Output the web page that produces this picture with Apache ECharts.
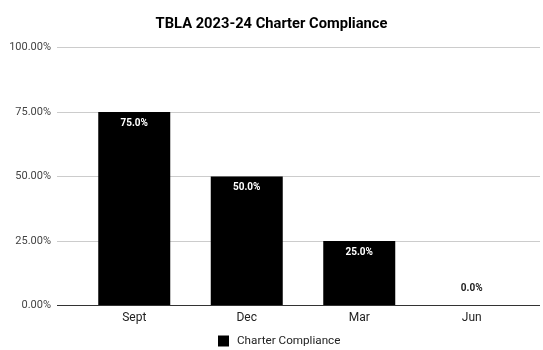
<!DOCTYPE html>
<html>
<head>
<meta charset="utf-8">
<script src="https://cdn.jsdelivr.net/npm/echarts@6/dist/echarts.min.js"></script>
<style>
  html, body { margin: 0; padding: 0; background: #fff; }
  #chart { width: 543px; height: 350px; }
</style>
</head>
<body>
<div id="chart"></div>
<script>
// Quarterly compliance rates for TBLA, 2023-24
const categories = ['Sept', 'Dec', 'Mar', 'Jun'];
const compliance = [0.75, 0.50, 0.25, 0.0];
const yTicks = [0, 0.25, 0.5, 0.75, 1.0];
const seriesName = 'Charter Compliance';

const FONT = 'Roboto, "Noto Sans", sans-serif';

const chart = echarts.init(document.getElementById('chart'), null, { renderer: 'canvas' });

const barData = compliance.map(v => {
  const item = { value: v };
  if (v === 0) {
    item.label = { position: 'top', distance: 12, color: '#222' };
  }
  return item;
});

chart.setOption({
  animation: false,
  textStyle: { fontFamily: FONT },
  title: {
    text: 'TBLA 2023-24 Charter Compliance',
    left: 'center',
    top: 12,
    textStyle: { fontFamily: FONT, fontSize: 14.7, fontWeight: 'bold', color: '#000' }
  },
  legend: {
    data: [seriesName],
    bottom: 3,
    left: 218,
    padding: 0,
    icon: 'rect',
    itemWidth: 11,
    itemHeight: 11,
    itemGap: 6,
    textStyle: { fontFamily: FONT, fontSize: 11.7, color: '#222', padding: [0, 0, 0, 3] }
  },
  grid: [
    // wide grid carrying the value axis and its gridlines
    { left: 57, right: 3, top: 47.5, bottom: 44.5 },
    // inner grid holding the category bands and bars
    { left: 78, right: 15, top: 47.5, bottom: 44.5 }
  ],
  xAxis: [
    { gridIndex: 0, type: 'value', show: false },
    {
      gridIndex: 1,
      type: 'category',
      data: categories,
      axisLine: { show: false },
      axisTick: { show: false },
      axisLabel: { color: '#222', fontSize: 12, margin: 6, fontFamily: FONT }
    }
  ],
  yAxis: [
    {
      gridIndex: 0,
      type: 'value',
      min: yTicks[0],
      max: yTicks[yTicks.length - 1],
      interval: 0.25,
      axisLine: { show: false },
      axisTick: { show: false },
      splitLine: { lineStyle: { color: '#cccccc', width: 1 } },
      axisLabel: {
        color: '#444',
        fontSize: 11,
        margin: 6,
        fontFamily: FONT,
        formatter: v => (v * 100).toFixed(2) + '%'
      }
    },
    {
      gridIndex: 1,
      type: 'value',
      min: yTicks[0],
      max: yTicks[yTicks.length - 1],
      interval: 0.25,
      show: false,
      splitLine: { show: false }
    }
  ],
  series: [
    {
      // baseline drawn darker across the full plot width
      type: 'line',
      xAxisIndex: 0,
      yAxisIndex: 0,
      data: [],
      markLine: {
        silent: true,
        symbol: 'none',
        label: { show: false },
        lineStyle: { color: '#333', width: 1, type: 'solid' },
        data: [{ yAxis: 0 }]
      }
    },
    {
      name: seriesName,
      type: 'bar',
      xAxisIndex: 1,
      yAxisIndex: 1,
      data: barData,
      barWidth: '64%',
      itemStyle: { color: '#000' },
      label: {
        show: true,
        position: 'insideTop',
        distance: 6,
        color: '#fff',
        fontSize: 10,
        fontWeight: 'bold',
        fontFamily: FONT,
        formatter: p => (p.value * 100).toFixed(1) + '%'
      },
      z: 3
    }
  ]
});
</script>
</body>
</html>
